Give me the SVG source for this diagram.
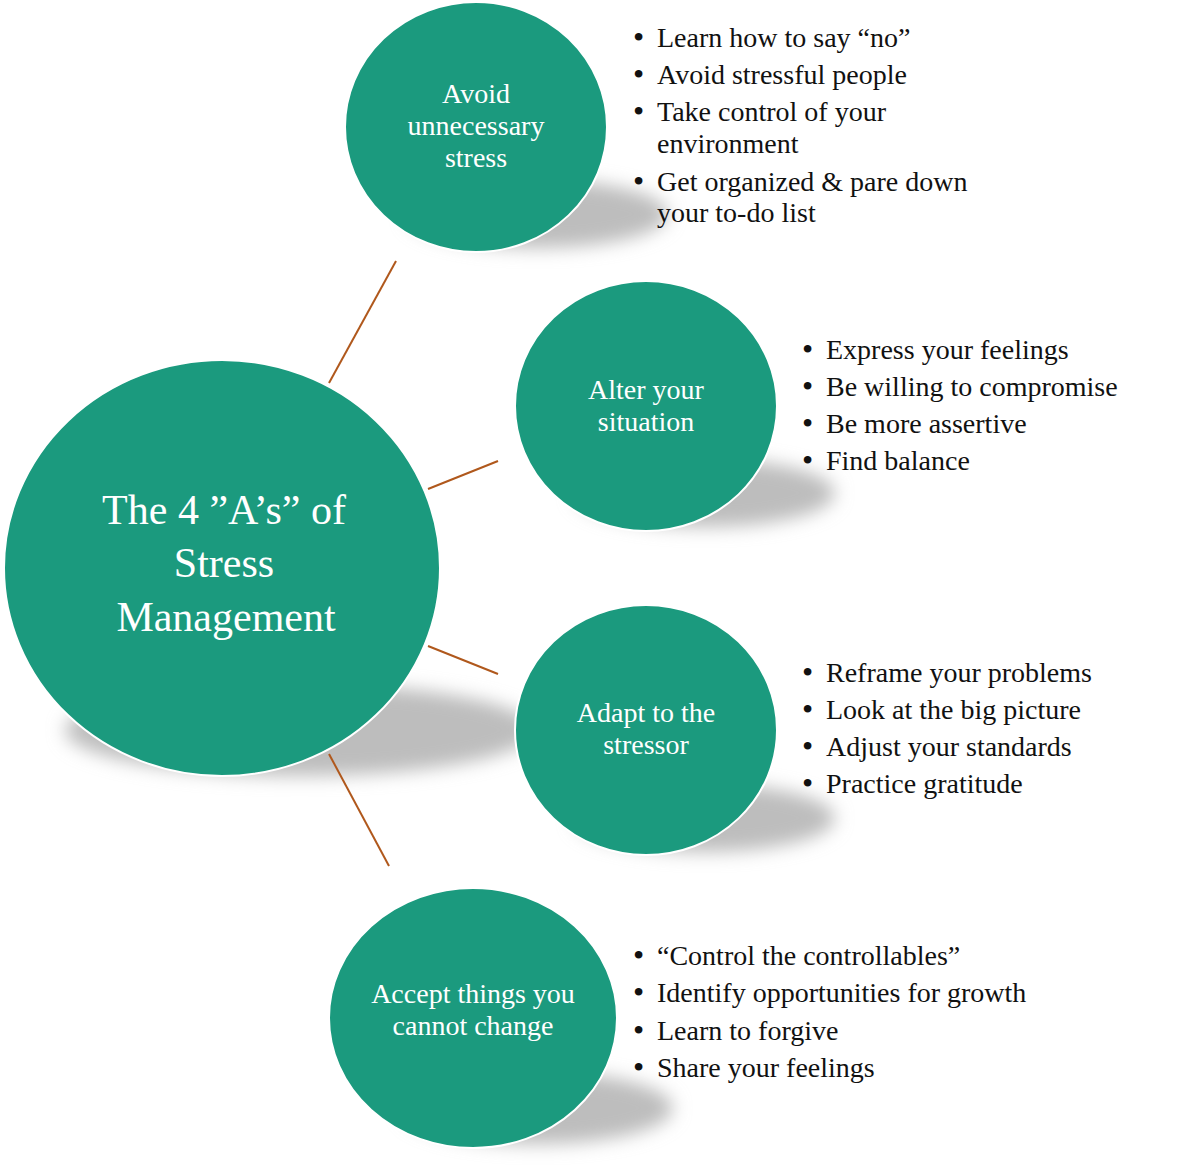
<svg xmlns="http://www.w3.org/2000/svg" width="1200" height="1165" viewBox="0 0 1200 1165">
<style>
.node{fill:#1b9a7e;stroke:#ffffff;stroke-width:2}
.shadow{fill:#bdbdbd;filter:url(#blur)}
.conn{stroke:#b0581c;stroke-width:2;fill:none}
.ctext{font-family:"Liberation Serif","DejaVu Serif",serif;fill:#ffffff;text-anchor:middle;font-size:28px}
.big{font-size:42px}
.btext{font-family:"Liberation Serif","DejaVu Serif",serif;fill:#111111;font-size:28px}
.bul{font-size:32px}
</style>
<defs>
<filter id="blur" x="-30%" y="-60%" width="160%" height="220%"><feGaussianBlur stdDeviation="9"/></filter>
</defs>
<rect width="1200" height="1165" fill="#ffffff"/>
<g id="shadows">
<ellipse class="shadow" cx="300" cy="730" rx="235" ry="46"/>
<ellipse class="shadow" cx="538" cy="214" rx="130" ry="34"/>
<ellipse class="shadow" cx="705" cy="493" rx="130" ry="34"/>
<ellipse class="shadow" cx="705" cy="818" rx="130" ry="34"/>
<ellipse class="shadow" cx="538" cy="1108" rx="135" ry="36"/>
</g>
<g id="connectors">
<line class="conn" x1="329" y1="383" x2="396" y2="261"/>
<line class="conn" x1="428" y1="489" x2="498" y2="461"/>
<line class="conn" x1="428" y1="646" x2="498" y2="674"/>
<line class="conn" x1="329" y1="754" x2="389" y2="866"/>
</g>
<g id="center">
<ellipse class="node" cx="222" cy="568" rx="218" ry="208"/>
<text class="ctext big" x="224" y="524">The 4 ”A’s” of</text>
<text class="ctext big" x="224" y="577">Stress</text>
<text class="ctext big" x="226" y="631">Management</text>
</g>
<g id="avoid">
<ellipse class="node" cx="476" cy="127" rx="131" ry="125"/>
<text class="ctext" x="476" y="103">Avoid</text>
<text class="ctext" x="476" y="135">unnecessary</text>
<text class="ctext" x="476" y="167">stress</text>
<g class="btext">
<text class="bul" x="633" y="48">•</text><text x="657" y="47">Learn how to say “no”</text>
<text class="bul" x="633" y="85">•</text><text x="657" y="84">Avoid stressful people</text>
<text class="bul" x="633" y="122">•</text><text x="657" y="121">Take control of your</text>
<text x="657" y="153">environment</text>
<text class="bul" x="633" y="192">•</text><text x="657" y="191">Get organized &amp; pare down</text>
<text x="657" y="222">your to-do list</text>
</g>
</g>
<g id="alter">
<ellipse class="node" cx="646" cy="406" rx="131" ry="125"/>
<text class="ctext" x="646" y="399">Alter your</text>
<text class="ctext" x="646" y="431">situation</text>
<g class="btext">
<text class="bul" x="802" y="360">•</text><text x="826" y="359">Express your feelings</text>
<text class="bul" x="802" y="397">•</text><text x="826" y="396">Be willing to compromise</text>
<text class="bul" x="802" y="434">•</text><text x="826" y="433">Be more assertive</text>
<text class="bul" x="802" y="471">•</text><text x="826" y="470">Find balance</text>
</g>
</g>
<g id="adapt">
<ellipse class="node" cx="646" cy="730" rx="131" ry="125"/>
<text class="ctext" x="646" y="722">Adapt to the</text>
<text class="ctext" x="646" y="754">stressor</text>
<g class="btext">
<text class="bul" x="802" y="683">•</text><text x="826" y="682">Reframe your problems</text>
<text class="bul" x="802" y="720">•</text><text x="826" y="719">Look at the big picture</text>
<text class="bul" x="802" y="757">•</text><text x="826" y="756">Adjust your standards</text>
<text class="bul" x="802" y="794">•</text><text x="826" y="793">Practice gratitude</text>
</g>
</g>
<g id="accept">
<ellipse class="node" cx="473" cy="1018" rx="144" ry="130"/>
<text class="ctext" x="473" y="1003">Accept things you</text>
<text class="ctext" x="473" y="1035">cannot change</text>
<g class="btext">
<text class="bul" x="633" y="966">•</text><text x="657" y="965">“Control the controllables”</text>
<text class="bul" x="633" y="1003">•</text><text x="657" y="1002">Identify opportunities for growth</text>
<text class="bul" x="633" y="1041">•</text><text x="657" y="1040">Learn to forgive</text>
<text class="bul" x="633" y="1078">•</text><text x="657" y="1077">Share your feelings</text>
</g>
</g>
</svg>
